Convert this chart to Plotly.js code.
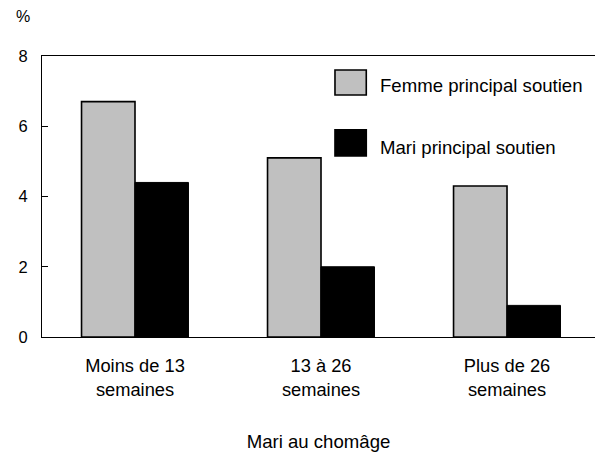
<!DOCTYPE html>
<html>
<head>
<meta charset="utf-8">
<script src="https://cdn.plot.ly/plotly-3.0.1.min.js"></script>
<style>html,body{margin:0;padding:0;background:#fff;}#chart{width:595px;height:453px;}</style>
</head>
<body>
<div id="chart"></div>
<script>
var categories = ["Moins de 13<br>semaines", "13 à 26<br>semaines", "Plus de 26<br>semaines"];
var seriesNames = ["Femme principal soutien", "Mari principal soutien"];
var femmeValues = [6.7, 5.1, 4.3];
var mariValues = [4.4, 2.0, 0.9];
var yTickValues = [0, 2, 4, 6, 8];
var yTickLabels = ["0", "2", "4", "6", "8"];
var seriesColors = ["#c0c0c0", "#000000"];

var FONT = "Liberation Sans, Arial, sans-serif";

var traces = [
  {type: "bar", name: seriesNames[0], x: categories, y: femmeValues,
   marker: {color: seriesColors[0], line: {color: "#000", width: 1.6}}, showlegend: false, hoverinfo: "none"},
  {type: "bar", name: seriesNames[1], x: categories, y: mariValues,
   marker: {color: seriesColors[1], line: {color: "#000", width: 1}}, showlegend: false, hoverinfo: "none"}
];

// Custom legend (boxes + labels)
var legendBoxes = [[0.95, 0.861], [0.737, 0.644]];
var legendTextY = [0.894, 0.675];
var shapes = [];
var annotations = [];
for (var i = 0; i < seriesNames.length; i++) {
  shapes.push({type: "rect", xref: "paper", yref: "paper", x0: 0.5298, x1: 0.5864,
    y0: legendBoxes[i][1], y1: legendBoxes[i][0], fillcolor: seriesColors[i],
    line: {color: "#000", width: 1.6}});
  annotations.push({xref: "paper", yref: "paper", x: 0.6076, y: legendTextY[i],
    xanchor: "left", yanchor: "middle", showarrow: false, text: seriesNames[i],
    font: {family: FONT, size: 18.6, color: "#000"}});
}
annotations.push({xref: "paper", yref: "paper", x: -0.034, y: 1.14, xanchor: "center", yanchor: "middle",
  showarrow: false, text: "%", font: {family: FONT, size: 16, color: "#000"}});

var layout = {
  width: 595, height: 453,
  margin: {l: 42, r: 0, t: 56, b: 116},
  paper_bgcolor: "#fff", plot_bgcolor: "#fff",
  font: {family: FONT, color: "#000"},
  barmode: "group", bargap: 0.425, bargroupgap: 0,
  xaxis: {
    range: [-0.5, 2.473], showline: true, linecolor: "#000", linewidth: 1, mirror: true,
    ticks: "", showgrid: false, zeroline: false,
    tickfont: {family: FONT, size: 18.3, color: "#000"}, ticklabelstandoff: 12,
    title: {text: "Mari au chomâge", font: {family: FONT, size: 18.6, color: "#000"}, standoff: 36}
  },
  yaxis: {
    range: [0, 8], tickvals: yTickValues, ticktext: yTickLabels,
    showline: true, linecolor: "#000", linewidth: 1, ticks: "inside", ticklen: 6, tickcolor: "#000",
    showgrid: false, zeroline: false, ticklabelstandoff: 10,
    tickfont: {family: FONT, size: 16.5, color: "#000"}
  },
  shapes: shapes,
  annotations: annotations
};

Plotly.newPlot("chart", traces, layout, {displayModeBar: false, staticPlot: true});
</script>
</body>
</html>
